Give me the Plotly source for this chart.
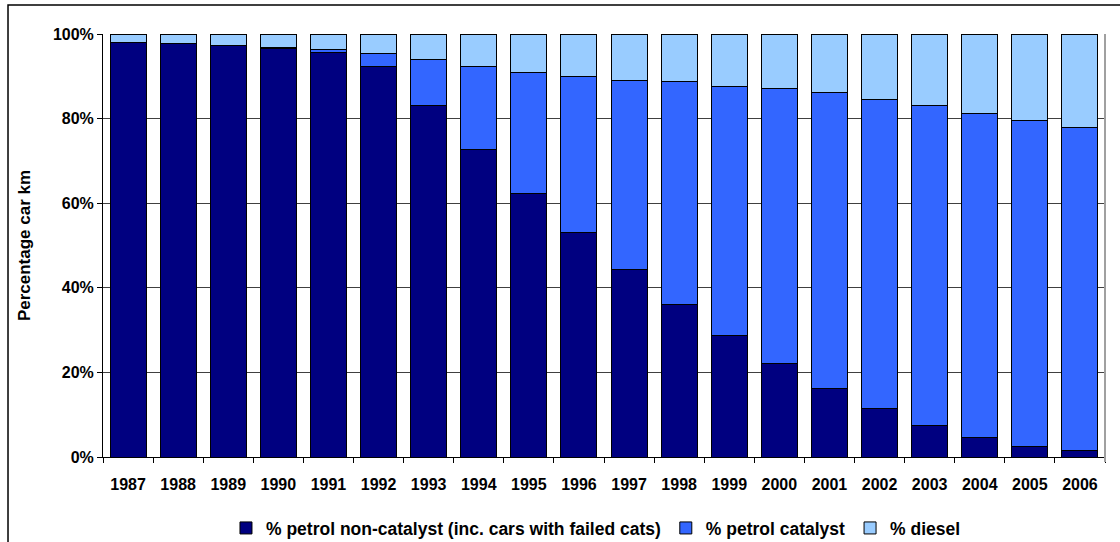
import plotly.graph_objects as go

# valeurs (% des km parcourus)
years = [str(y) for y in range(1987, 2007)]
petrol_noncat = [97.9, 97.7, 97.3, 96.6, 95.7, 92.4, 83.2, 72.7, 62.3, 53.1,
                 44.4, 36.1, 28.7, 22.2, 16.2, 11.4, 7.4, 4.6, 2.6, 1.5]
petrol_cat = [0.0, 0.0, 0.0, 0.1, 0.7, 2.9, 10.7, 19.7, 28.7, 36.9,
              44.6, 52.6, 59.0, 65.0, 69.9, 73.2, 75.8, 76.6, 77.0, 76.5]
diesel = [2.1, 2.3, 2.7, 3.3, 3.6, 4.7, 6.1, 7.6, 9.0, 10.0,
          11.0, 11.3, 12.3, 12.8, 13.9, 15.4, 16.8, 18.8, 20.4, 22.0]

series = [
    ("% petrol non-catalyst (inc. cars with failed cats)", petrol_noncat, "#000080"),
    ("% petrol catalyst", petrol_cat, "#3366FF"),
    ("% diesel", diesel, "#99CCFF"),
]

fig = go.Figure()
for name, vals, col in series:
    fig.add_trace(go.Bar(
        x=years, y=vals, name=name,
        marker=dict(color=col, line=dict(color="black", width=1)),
    ))

font = "Liberation Sans, Arial, sans-serif"

fig.update_layout(
    barmode="stack",
    bargap=0.28,
    width=1120, height=542,
    margin=dict(l=103, r=15, t=34, b=85, autoexpand=False),
    plot_bgcolor="white",
    paper_bgcolor="white",
    font=dict(family=font, size=16, color="black"),
    showlegend=True,
    legend=dict(
        orientation="h", x=0.492, xanchor="center", y=-0.168, yanchor="middle",
        font=dict(family=font, size=17.5, color="black", weight="bold"),
        traceorder="normal", itemwidth=30,
    ),
)

fig.update_xaxes(
    type="category",
    showline=True, linecolor="black", linewidth=1,
    ticks="outside", ticklen=5, tickcolor="black", tickson="boundaries",
    ticklabelstandoff=13,
    tickfont=dict(family=font, size=16, color="black", weight="bold"),
    showgrid=False,
)

fig.update_yaxes(
    range=[0, 100], dtick=20, ticksuffix="%",
    showline=True, linecolor="black", linewidth=1,
    ticks="outside", ticklen=5, tickcolor="black",
    showgrid=True, gridcolor="#404040", gridwidth=1,
    tickfont=dict(family=font, size=16, color="black", weight="bold"),
    title=dict(text="Percentage car km", standoff=17,
               font=dict(family=font, size=17, color="black", weight="bold")),
    zeroline=False,
)

# bord droit gris de la zone de tracé
fig.add_shape(type="line", xref="paper", yref="paper", x0=1, x1=1, y0=-0.012, y1=1,
              line=dict(color="#a0a0a0", width=2))
# cadre extérieur du graphique
fig.add_shape(type="rect", xref="paper", yref="paper",
              x0=-0.0948, x1=1.05, y0=-0.3, y1=1.0686,
              line=dict(color="black", width=1.5), layer="above")

# pas de marge du body pour que la figure colle au coin de la fenêtre
fig.write_html("out.html", config={"displayModeBar": False},
               post_script="document.body.style.margin='0';")
